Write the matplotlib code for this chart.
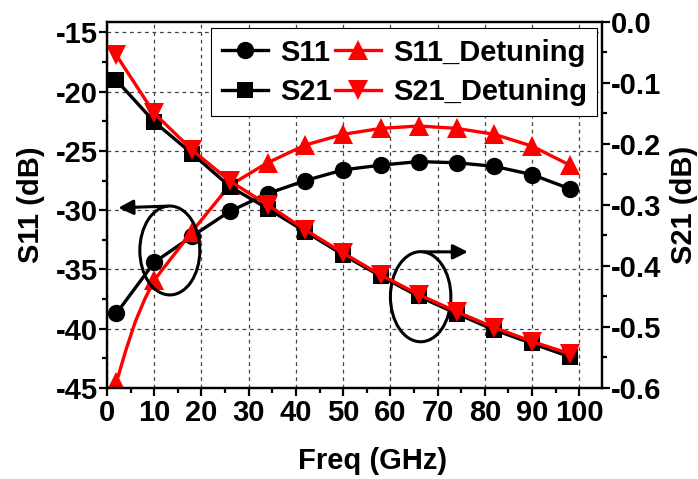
import numpy as np
import matplotlib.pyplot as plt
from matplotlib.lines import Line2D
from matplotlib.patches import Ellipse
from matplotlib.ticker import MultipleLocator

plt.rcParams["font.family"] = ["Liberation Sans", "DejaVu Sans"]
plt.rcParams["font.weight"] = "bold"
plt.rcParams["axes.unicode_minus"] = False

# data
freq = [2, 10, 18, 26, 34, 42, 50, 58, 66, 74, 82, 90, 98]
s11 = [-38.7, -34.4, -32.2, -30.1, -28.6, -27.5, -26.6, -26.2, -25.9, -26.0, -26.3, -27.0, -28.2]
s11_det = [-44.5, -35.9, -31.8, -27.9, -26.0, -24.5, -23.6, -23.1, -22.9, -23.1, -23.6, -24.6, -26.2]
s21 = [-0.096, -0.164, -0.216, -0.270, -0.306, -0.344, -0.382, -0.417, -0.450, -0.478, -0.505, -0.527, -0.549]
s21_det = [-0.055, -0.150, -0.210, -0.261, -0.300, -0.341, -0.379, -0.415, -0.447, -0.475, -0.501, -0.524, -0.544]

# S11_Detuning curve is bent at the low end, a few extra read points there
freq_det_line = [2, 4, 6, 8, 10, 18, 26, 34, 42, 50, 58, 66, 74, 82, 90, 98]
s11_det_line = [-44.5, -41.8, -39.4, -37.5, -35.9, -31.8, -27.9, -26.0, -24.5, -23.6, -23.1, -22.9, -23.1, -23.6, -24.6, -26.2]

lw = 2.4
fs = 21
fig = plt.figure(figsize=(6.98, 4.79), dpi=100)
ax1 = fig.add_axes([0.1533, 0.19, 0.7092, 0.7647])
ax2 = ax1.twinx()

ax1.plot(freq, s11, color="black", lw=lw, marker="o", ms=12.5, mew=0)
ax1.plot(freq_det_line, s11_det_line, color="red", lw=lw)
ax1.plot(freq, s11_det, color="red", ls="none", marker="^", ms=15, mew=0)

ax2.plot(freq, s21, color="black", lw=lw, marker="s", ms=11.5, mew=0)
ax2.plot(freq, s21_det, color="red", lw=lw, marker="v", ms=15, mew=0)

ax1.set_xlim(0, 104.8)
ax1.set_ylim(-45, -14.1)
ax2.set_ylim(-0.6, 0.0)

ax1.xaxis.set_major_locator(MultipleLocator(10))
ax1.xaxis.set_minor_locator(MultipleLocator(5))
ax1.yaxis.set_major_locator(MultipleLocator(5))
ax1.yaxis.set_minor_locator(MultipleLocator(2.5))
ax2.yaxis.set_major_locator(MultipleLocator(0.1))
ax2.yaxis.set_minor_locator(MultipleLocator(0.05))
ax2.yaxis.set_major_formatter(plt.FormatStrFormatter("%.1f"))

ax1.grid(True, which="major", color="#444444", ls=(0, (3, 3)), lw=0.9)

for ax in (ax1, ax2):
    for sp in ax.spines.values():
        sp.set_linewidth(1.6)
    ax.tick_params(which="major", direction="out", length=6, width=1.6, labelsize=fs, pad=0.5)
    ax.tick_params(which="minor", direction="out", length=3.5, width=1.6)
ax1.tick_params(axis="x", pad=2)
ax1.tick_params(axis="y", which="both", right=False)

ax1.set_xlabel("Freq (GHz)", fontsize=fs, fontweight="bold")
ax1.set_ylabel("S11 (dB)", fontsize=fs, fontweight="bold")
ax2.set_ylabel("S21 (dB)", fontsize=fs, fontweight="bold")
ax1.xaxis.set_label_coords(0.537, -0.16)
ax1.yaxis.set_label_coords(-0.125, 0.5)
ax2.yaxis.set_label_coords(1.137, 0.5)

# ellipses and arrows showing which axis each pair belongs to
ax1.add_patch(Ellipse((13.3, -33.4), 12.7, 7.5, fill=False, ec="black", lw=2.2, zorder=5))
ax1.add_patch(Ellipse((66.4, -37.3), 12.8, 7.6, fill=False, ec="black", lw=2.2, zorder=5))
ax2.annotate("", xy=(1.8, -0.305), xytext=(13.3, -0.302),
             arrowprops=dict(arrowstyle="-|>", color="black", lw=2.2, mutation_scale=22))
ax2.annotate("", xy=(77.0, -0.377), xytext=(66.4, -0.377),
             arrowprops=dict(arrowstyle="-|>", color="black", lw=2.2, mutation_scale=22))

handles = [
    Line2D([], [], color="black", lw=lw, marker="o", ms=12.5, mew=0),
    Line2D([], [], color="black", lw=lw, marker="s", ms=11.5, mew=0),
    Line2D([], [], color="red", lw=lw, marker="^", ms=15, mew=0),
    Line2D([], [], color="red", lw=lw, marker="v", ms=15, mew=0),
]
labels = ["S11", "S21", "S11_Detuning", "S21_Detuning"]
leg = ax2.legend(handles, labels, ncol=2, loc="upper right", bbox_to_anchor=(0.99, 0.982),
                 borderaxespad=0, fancybox=False, framealpha=1, edgecolor="black",
                 prop={"size": fs, "weight": "bold"}, handlelength=1.6, handletextpad=0.4,
                 columnspacing=0.1, labelspacing=0.4, borderpad=0.35)
leg.get_frame().set_linewidth(0.8)

plt.savefig("out.png", dpi=100)
